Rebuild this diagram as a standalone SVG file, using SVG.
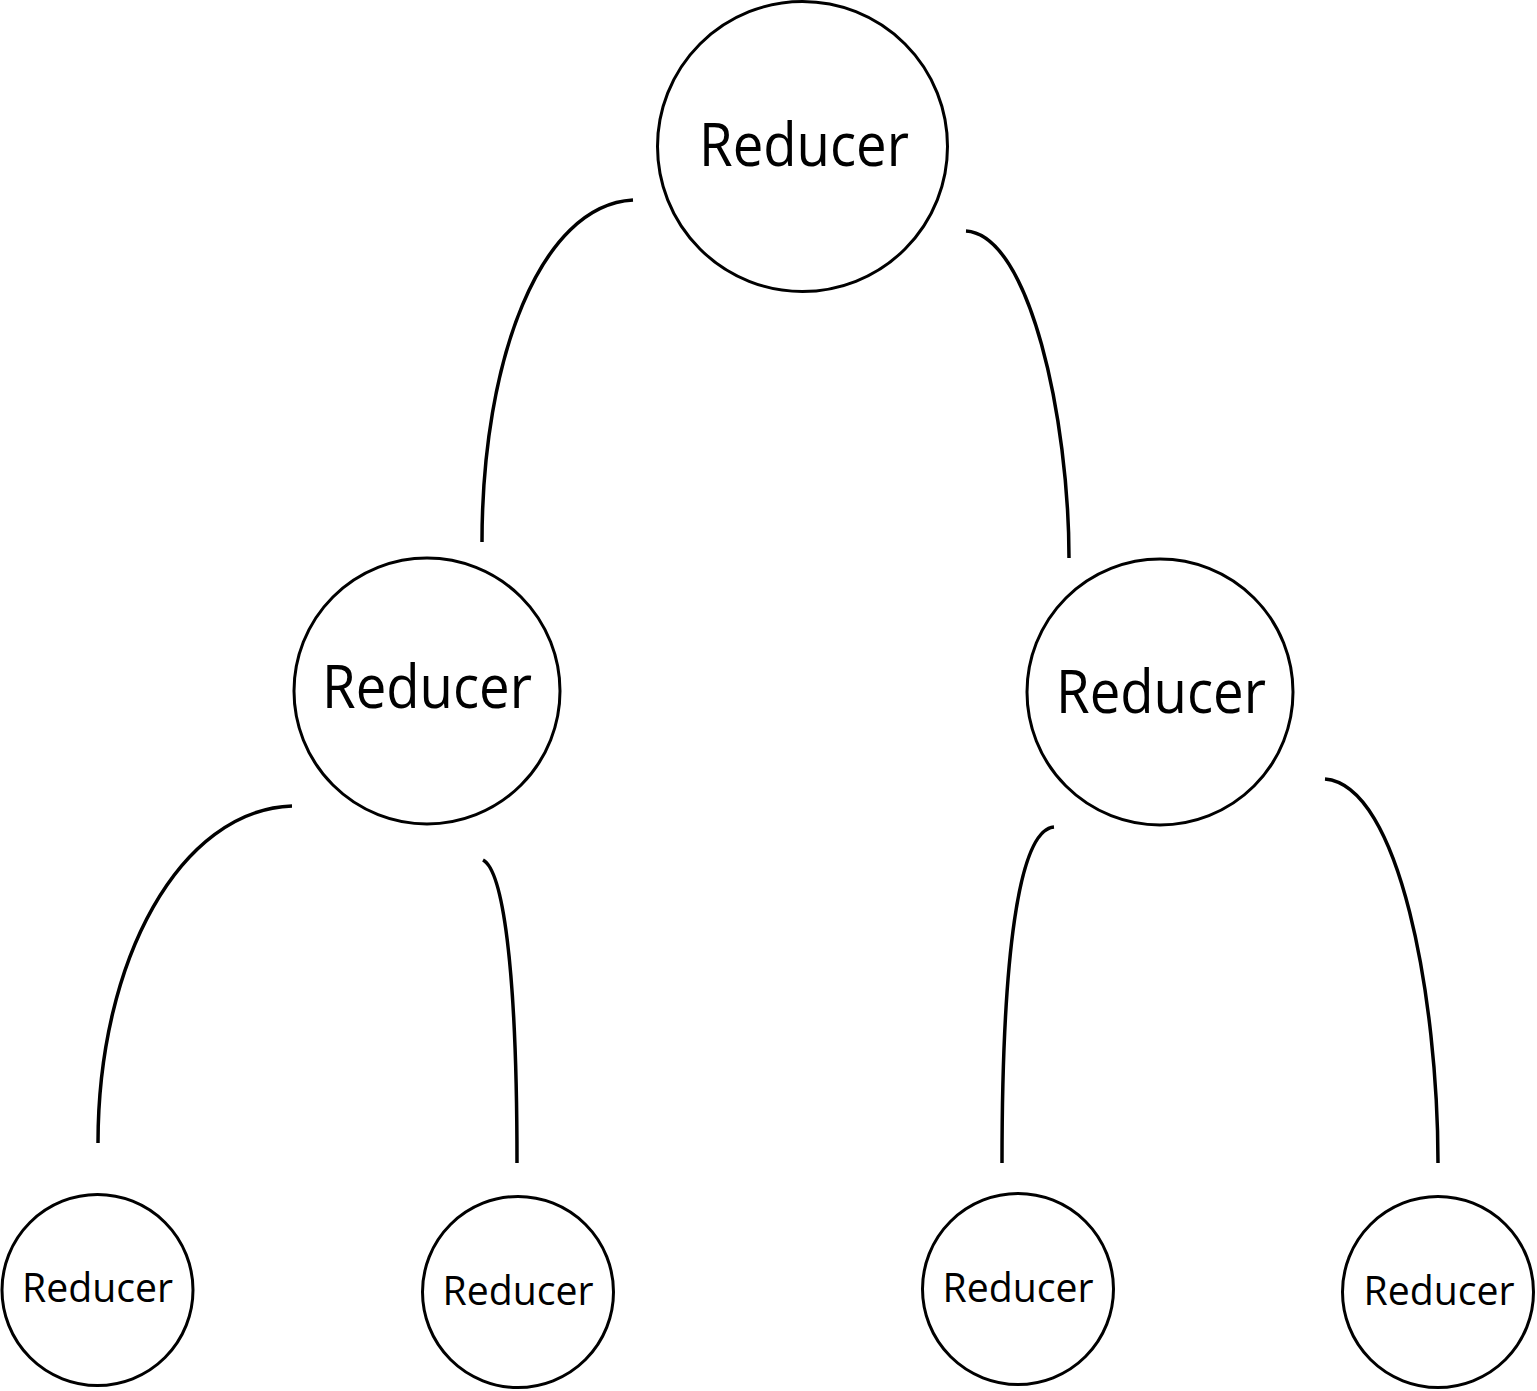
<svg xmlns="http://www.w3.org/2000/svg" width="1537" height="1391" viewBox="0 0 1537 1391">
<style>
.n{fill:#fff;stroke:#000;stroke-width:3}
.c{fill:none;stroke:#000;stroke-width:3.5}
.t{font-family:"Open Sans","Noto Sans","Liberation Sans",sans-serif;fill:#000;text-anchor:middle}
.big{font-size:60px}
.sm{font-size:41px}
</style>
<rect width="1537" height="1391" fill="#fff"/>
<g id="connectors">
<path class="c" d="M633,200 C540,205 482,360 482,542"/>
<path class="c" d="M966,231 C1030,235 1069,420 1069,558"/>
<path class="c" d="M292,806 C180,810 98,960 98,1143"/>
<path class="c" d="M483,860 C502,870 517,960 517,1163"/>
<path class="c" d="M1054,827 C1018,830 1002,960 1002,1163"/>
<path class="c" d="M1325,779 C1400,785 1438,1000 1438,1163"/>
</g>
<g id="root"><circle class="n" cx="802.5" cy="146.5" r="145"/><text class="t big" x="804" y="166" textLength="210" lengthAdjust="spacingAndGlyphs">Reducer</text></g>
<g id="midLeft"><circle class="n" cx="427" cy="691" r="133"/><text class="t big" x="427" y="708" textLength="210" lengthAdjust="spacingAndGlyphs">Reducer</text></g>
<g id="midRight"><circle class="n" cx="1160" cy="692" r="133"/><text class="t big" x="1161" y="713" textLength="210" lengthAdjust="spacingAndGlyphs">Reducer</text></g>
<g id="leaf1"><circle class="n" cx="97.5" cy="1290" r="95.5"/><text class="t sm" x="97.5" y="1302" textLength="151" lengthAdjust="spacingAndGlyphs">Reducer</text></g>
<g id="leaf2"><circle class="n" cx="518" cy="1292" r="95.5"/><text class="t sm" x="518" y="1305" textLength="151" lengthAdjust="spacingAndGlyphs">Reducer</text></g>
<g id="leaf3"><circle class="n" cx="1018" cy="1289" r="95.5"/><text class="t sm" x="1018" y="1302" textLength="151" lengthAdjust="spacingAndGlyphs">Reducer</text></g>
<g id="leaf4"><circle class="n" cx="1438" cy="1292" r="95.5"/><text class="t sm" x="1439" y="1305" textLength="151" lengthAdjust="spacingAndGlyphs">Reducer</text></g>
</svg>
